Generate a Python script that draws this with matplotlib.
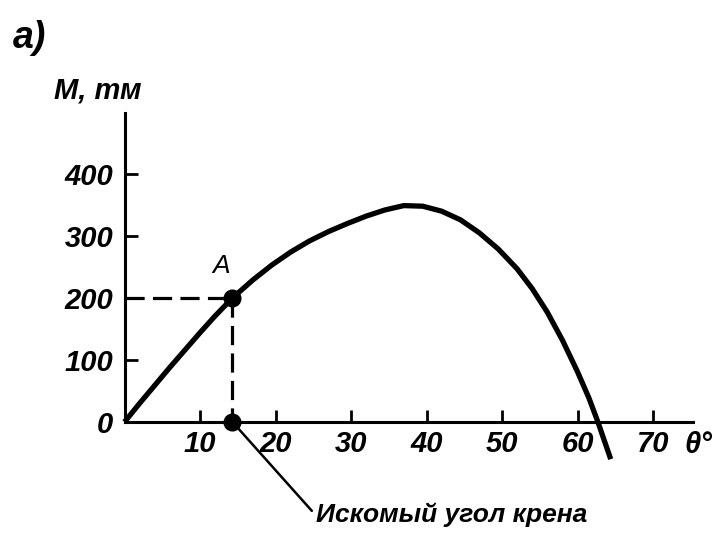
import matplotlib
matplotlib.use('Agg')
import matplotlib.pyplot as plt

# heeling moment curve (theta in degrees, M in t*m)
theta = [0, 2, 4, 6, 8, 10, 12, 14.3, 17, 19.5, 22, 24.5, 27, 29.5, 32, 34.5,
         37, 39.5, 42, 44.5, 47, 49.5, 52, 54, 56, 58, 60, 61.5, 62.7, 64.4]
moment = [0, 30, 59, 88, 116, 144, 171, 200, 229, 253, 274, 292, 307, 320, 332, 342,
          349, 348, 340, 326, 305, 279, 247, 215, 177, 132, 81, 39, 0, -60]

xticks = [10, 20, 30, 40, 50, 60, 70]
yticks = [0, 100, 200, 300, 400]
theta_a = 14.3
m_a = 200

plt.rcParams['font.family'] = ['Liberation Sans', 'DejaVu Sans']
plt.rcParams['font.style'] = 'italic'
plt.rcParams['font.weight'] = 'bold'

fig = plt.figure(figsize=(7.15, 5.43), dpi=100)
ax = fig.add_axes([0, 0, 1, 1])
ax.set_xlim(-16.49, 78.21)
ax.set_ylim(-195.2, 680.6)

for s in ['top', 'right']:
    ax.spines[s].set_visible(False)
for s in ['left', 'bottom']:
    ax.spines[s].set_position(('data', 0))
    ax.spines[s].set_linewidth(2.2)
ax.spines['left'].set_bounds(0, 498)
ax.spines['bottom'].set_bounds(0, 75.3)

ax.set_xticks(xticks)
ax.set_yticks(yticks)
ax.tick_params(axis='x', direction='in', length=9, width=2, pad=6, labelsize=21)
ax.tick_params(axis='y', direction='in', length=9, width=2, pad=8, labelsize=21)

# the curve
ax.plot(theta, moment, color='k', lw=3.8, solid_capstyle='butt')

# point A and its projections
dash = (0, (6, 2.6))
ax.plot([0, theta_a], [m_a, m_a], color='k', lw=2.3, ls=dash)
ax.plot([theta_a, theta_a], [m_a, 0], color='k', lw=2.3, ls=dash)
ax.plot([theta_a, theta_a], [m_a, 0], 'o', color='k', ms=12, clip_on=False)
ax.text(theta_a - 1.5, m_a + 32, 'A', fontsize=19, ha='center', va='bottom',
        fontweight='normal')

ax.annotate('Искомый угол крена', xy=(theta_a, 0), xytext=(25.3, -150),
            fontsize=19, ha='left', va='center',
            arrowprops=dict(arrowstyle='-', color='k', lw=1.8, relpos=(0, 0.5),
                            shrinkA=1, shrinkB=0))

# labels
ax.text(-14.8, 620, 'a)', fontsize=27, ha='left', va='center')
ax.text(-9.4, 522, 'M, тм', fontsize=21, ha='left', va='baseline')
ax.text(77.9, -37, 'θ°', fontsize=21, ha='right', va='center')

fig.savefig('out.png', dpi=100)
